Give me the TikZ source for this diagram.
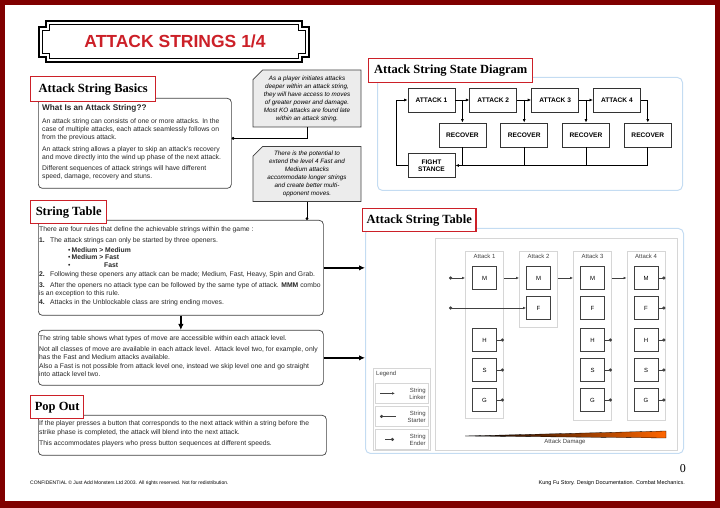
\documentclass[tikz,border=0pt]{standalone}
\usepackage{fontspec}
\setmainfont{Liberation Sans}
\newfontfamily\headfont{Liberation Serif}
\usetikzlibrary{positioning,arrows.meta,calc,shapes.misc}
\definecolor{ksframe}{RGB}{128,0,0}
\definecolor{ksred}{RGB}{204,32,40}
\definecolor{ksblue}{RGB}{196,220,242}
\definecolor{ksgrey}{RGB}{236,236,236}
\definecolor{ksdark}{RGB}{64,64,64}
\definecolor{kspanel}{RGB}{214,214,214}
\definecolor{ksorange}{RGB}{255,102,0}
\tikzset{
  heading/.style={draw=ksred, line width=1.4pt, fill=white, anchor=north west, inner xsep=4pt, font=\headfont\bfseries\fontsize{12.5}{13}\selectfont},
  textbox/.style={draw=ksdark, line width=0.7pt, rounded corners=4pt, anchor=north west, inner sep=0pt},
  bodytext/.style={anchor=north west, align=left, inner sep=0pt, font=\fontsize{6.8}{8}\selectfont, text=black!85},
  note/.style={chamfered rectangle, chamfered rectangle corners=north west, chamfered rectangle xsep=6pt, draw=ksdark, line width=0.7pt, fill=ksgrey, align=center, font=\itshape\fontsize{6.3}{8}\selectfont, inner sep=1pt},
  panel/.style={draw=ksblue, line width=1pt, rounded corners=5pt, anchor=north west, inner sep=0pt},
  state/.style={draw=black!80, line width=0.8pt, fill=white, minimum width=47pt, minimum height=24pt, font=\bfseries\fontsize{6.6}{7.5}\selectfont, align=center, inner sep=1pt},
  flow/.style={-{Latex[length=3.5pt,width=3pt]}, line width=0.7pt},
  bigarrow/.style={-{Latex[length=6pt,width=5.5pt]}, line width=1.7pt},
  link/.style={line width=0.8pt},
  column/.style={draw=kspanel, line width=0.8pt, anchor=north, minimum width=38pt, inner sep=0pt},
  cell/.style={draw=ksdark, line width=0.8pt, fill=white, minimum width=24pt, minimum height=23pt, inner sep=0pt, font=\fontsize{6}{7}\selectfont},
  legbox/.style={draw=kspanel, line width=0.8pt, anchor=north west, inner sep=0pt},
  linker/.style={-{Latex[length=3pt,width=2.6pt]}, line width=0.6pt, ksdark},
  starter/.style={{Circle[length=3.2pt]}-{Latex[length=3pt,width=2.6pt]}, line width=0.6pt, ksdark},
  ender/.style={-{Circle[length=3.2pt]}, line width=0.6pt, ksdark},
  smalltext/.style={font=\fontsize{6}{7}\selectfont, text=ksdark, inner sep=0pt}
}

\begin{document}
\begin{tikzpicture}[x=1pt, y=1pt, node distance=14pt]
  \useasboundingbox (0,0) rectangle (720,508);
  % page frame
  \draw[ksframe, line width=5pt] (2.5,2.5) rectangle (717.5,505.5);
  \fill[ksframe] (0,0) rectangle (720,7);

  % title plate
  \filldraw[fill=white, line width=1.4pt] (46,487) -- (302,487) -- (302,481) -- (309,481) -- (309,451) -- (302,451) -- (302,446)
    -- (46,446) -- (46,451) -- (39,451) -- (39,481) -- (46,481) -- cycle;
  \draw[line width=1.2pt] (49.5,483.5) -- (298.5,483.5) -- (298.5,477.5) -- (305.5,477.5) -- (305.5,454.5) -- (298.5,454.5) -- (298.5,449.5)
    -- (49.5,449.5) -- (49.5,454.5) -- (42.5,454.5) -- (42.5,477.5) -- (49.5,477.5) -- cycle;
  \node[font=\bfseries\fontsize{17.5}{18}\selectfont, text=ksred] (title) at (175,466.5) {ATTACK STRINGS 1/4};

  % attack string basics
  \node[textbox, minimum width=193pt, minimum height=90pt] (basics) at (38,410) {};
  \node[heading, minimum width=125pt, minimum height=25pt] (basicshead) at (30,432) {Attack String Basics};
  \node[bodytext] (basicstext) at (42,404) {{\bfseries\fontsize{8.2}{9}\selectfont What Is an Attack String??}\\[5pt]
    An attack string can consists of one or more attacks. In the\\
    case of multiple attacks, each attack seamlessly follows on\\
    from the previous attack.\\[4pt]
    An attack string allows a player to skip an attack's recovery\\
    and move directly into the wind up phase of the next attack.\\[3pt]
    Different sequences of attack strings will have different\\
    speed, damage, recovery and stuns.};

  % side notes
  \node[note, minimum width=108pt, minimum height=57pt] (note1) at (307,409.5) {As a player initiates attacks\\
    deeper within an attack string,\\
    they will have access to moves\\
    of greater power and damage.\\
    Most KO attacks are found late\\
    within an attack string.};
  \node[note, minimum width=108pt, minimum height=54pt] (note2) at (307,334) {There is the potential to\\
    extend the level 4 Fast and\\
    Medium attacks\\
    accommodate longer strings\\
    and create better multi-\\
    opponent moves.};

  % string table
  \node[textbox, minimum width=285pt, minimum height=95pt] (strtab) at (38,288) {};
  \node[heading, minimum width=76pt, minimum height=23pt] (strtabhead) at (30,308) {String Table};
  \node[bodytext] (strtabtext) at (39,282) {There are four rules that define the achievable strings within the game :\\[3pt]
    \makebox[11pt][l]{\textbf{1.}}The attack strings can only be started by three openers.\\[2pt]
    \hspace*{29pt}\makebox[3.5pt][l]{\textbullet}\textbf{Medium > Medium}\\[-0.5pt]
    \hspace*{29pt}\makebox[3.5pt][l]{\textbullet}\textbf{Medium > Fast}\\[-0.5pt]
    \hspace*{29pt}\makebox[36pt][l]{\textbullet}\textbf{Fast}\\[1pt]
    \makebox[11pt][l]{\textbf{2.}}Following these openers any attack can be made; Medium, Fast, Heavy, Spin and Grab.\\[3pt]
    \makebox[11pt][l]{\textbf{3.}}After the openers no attack type can be followed by the same type of attack. \textbf{MMM} combo\\
    is an exception to this rule.\\[1pt]
    \makebox[11pt][l]{\textbf{4.}}Attacks in the Unblockable class are string ending moves.};

  \node[textbox, minimum width=285pt, minimum height=55pt] (levels) at (38,178) {};
  \node[bodytext] (levelstext) at (39,173) {The string table shows what types of move are accessible within each attack level.\\[3pt]
    Not all classes of move are available in each attack level.\ \ Attack level two, for example, only\\
    has the Fast and Medium attacks available.\\[1pt]
    Also a Fast is not possible from attack level one, instead we skip level one and go straight\\
    into attack level two.};

  % pop out
  \node[textbox, minimum width=288pt, minimum height=40pt] (popout) at (38,93) {};
  \node[heading, minimum width=53pt, minimum height=23pt] (popouthead) at (30,113) {Pop Out};
  \node[bodytext] (popouttext) at (39,88) {If the player presses a button that corresponds to the next attack within a string before the\\[1pt]
    strike phase is completed, the attack will blend into the next attack.\\[3pt]
    This accommodates players who press button sequences at different speeds.};

  \draw[link, -{Circle[length=2.8pt]}] (note1.south) |- ($(basics.east)+(0,5)$);
  \draw[link, -{Circle[length=2.8pt]}] (note2.south) -- (note2.south |- strtab.north);

  \draw[bigarrow] (strtab.south) -- (levels.north);

  % state diagram
  \node[panel, minimum width=305pt, minimum height=113pt] (statepanel) at (377,431) {};
  \node[heading, minimum width=164pt, minimum height=24pt] (statehead) at (368,450) {Attack String State Diagram};
  \node[state] (a1) at (431.5,408) {ATTACK 1};
  \node[state, right=of a1] (a2) {ATTACK 2};
  \node[state, right=of a2] (a3) {ATTACK 3};
  \node[state, right=of a3] (a4) {ATTACK 4};
  \node[state] (r1) at ($(a1.east)+(7,-35)$) {RECOVER};
  \node[state] (r2) at ($(a2.east)+(7,-35)$) {RECOVER};
  \node[state] (r3) at ($(a3.east)+(7,-35)$) {RECOVER};
  \node[state] (r4) at ($(a4.east)+(7,-35)$) {RECOVER};
  \node[state] (fight) at (431.5,342.5) {FIGHT\\STANCE};

  \draw[flow] (a1) -- (a2);
  \draw[flow] (a2) -- (a3);
  \draw[flow] (a3) -- (a4);
  \foreach \i in {1,2,3}
    \draw[flow] (r\i.north |- a\i.east) -- (r\i.north);
  \draw[flow] (a4.east) -| (r4.north);
  \foreach \i in {1,2,3}
    \draw[line width=0.7pt] (r\i.south) -- (r\i.south |- fight.east);
  \draw[flow] (r4.south) |- (fight.east);
  \draw[flow] (fight.west) -- ++(-11,0) |- (a1.west);

  % attack string table
  \node[panel, minimum width=318pt, minimum height=225pt] (table) at (365,280) {};
  \node[heading, minimum width=111pt, minimum height=23pt] (tablehead) at (362,300) {Attack String Table};
  \node[legbox, minimum width=242pt, minimum height=212pt] (grid) at (435,270) {};

  \draw[bigarrow] (strtab.east) -- (strtab.east -| table.west);
  \draw[bigarrow] (levels.east) -- (levels.east -| table.west);

  \node[column, minimum height=167pt] (col1) at (484.5,257) {};
  \node[column, minimum height=76pt] (col2) at (538.5,257) {};
  \node[column, minimum height=169pt] (col3) at (592.5,257) {};
  \node[column, minimum height=169pt] (col4) at (646,257) {};
  \foreach \c in {1,...,4}
    \node[smalltext, anchor=north] (lab\c) at ($(col\c.north)+(0,-3)$) {Attack \c};

  \foreach \c in {1,...,4}
    \node[cell] (m\c) at (col\c.north |- 0,230) {M};
  \foreach \c in {2,3,4}
    \node[cell] (f\c) at (col\c.north |- 0,200) {F};
  \foreach \c in {1,3,4} {
    \node[cell] (h\c) at (col\c.north |- 0,168) {H};
    \node[cell] (s\c) at (col\c.north |- 0,138) {S};
    \node[cell] (g\c) at (col\c.north |- 0,108) {G};
  }

  \coordinate (startm) at (449,230);
  \coordinate (startf) at (449,200);
  \draw[starter] (startm) -- (startm -| col1.west);
  \draw[starter] (startf) -- (f2.west);
  \draw[linker] (m1.east -| col1.east) -- (m2.west -| col2.west);
  \draw[linker] (m2.east -| col2.east) -- (m3.west -| col3.west);
  \draw[linker] (m3.east -| col3.east) -- (m4.west -| col4.west);
  \foreach \r in {m,f,h,s,g}
    \draw[ender] (\r4.east) -- (\r4.east -| col4.east);
  \foreach \r in {h,s,g} {
    \draw[ender] (\r1.east) -- (\r1.east -| col1.east);
    \draw[ender] (\r3.east) -- (\r3.east -| col3.east);
  }

  % legend
  \node[legbox, minimum width=57pt, minimum height=82pt] (legend) at (373,140) {};
  \node[smalltext, anchor=north west] (legendtitle) at (376,137.5) {Legend};
  \node[legbox, minimum width=53pt, minimum height=20pt] (leg1) at (375,125) {};
  \node[legbox, minimum width=53pt, minimum height=20pt] (leg2) at (375,102) {};
  \node[legbox, minimum width=53pt, minimum height=20pt] (leg3) at (375,79) {};
  \node[smalltext, align=right, anchor=east] (leg1text) at ($(leg1.east)+(-3,0)$) {String\\Linker};
  \node[smalltext, align=right, anchor=east] (leg2text) at ($(leg2.east)+(-3,0)$) {String\\Starter};
  \node[smalltext, align=right, anchor=east] (leg3text) at ($(leg3.east)+(-3,0)$) {String\\Ender};
  \draw[linker] ($(leg1.west)+(5,0)$) -- ++(15,0);
  \draw[{Circle[length=3.2pt]}-, line width=0.6pt, ksdark] ($(leg2.west)+(5,0)$) -- ++(16,0);
  \draw[ender] ($(leg3.west)+(10,0)$) -- ++(9,0);

  % damage wedge
  \shadedraw[left color=black, right color=ksorange, draw=black, line width=0.3pt] (465,72) -- (666,77) -- (666,70) -- cycle;
  \node[smalltext] (damage) at (565,66.5) {Attack Damage};

  % footer
  \node[font=\fontsize{5}{6}\selectfont, anchor=west, inner sep=0pt] (confidential) at (30,25) {CONFIDENTIAL © Just Add Monsters Ltd 2003. All rights reserved. Not for redistribution.};
  \node[font=\fontsize{5.5}{6}\selectfont, anchor=east, inner sep=0pt] (docname) at (685,25) {Kung Fu Story. Design Documentation. Combat Mechanics.};
  \node[font=\headfont\fontsize{12}{12}\selectfont, anchor=east, inner sep=0pt] (pagenum) at (686,39) {0};
\end{tikzpicture}
\end{document}
